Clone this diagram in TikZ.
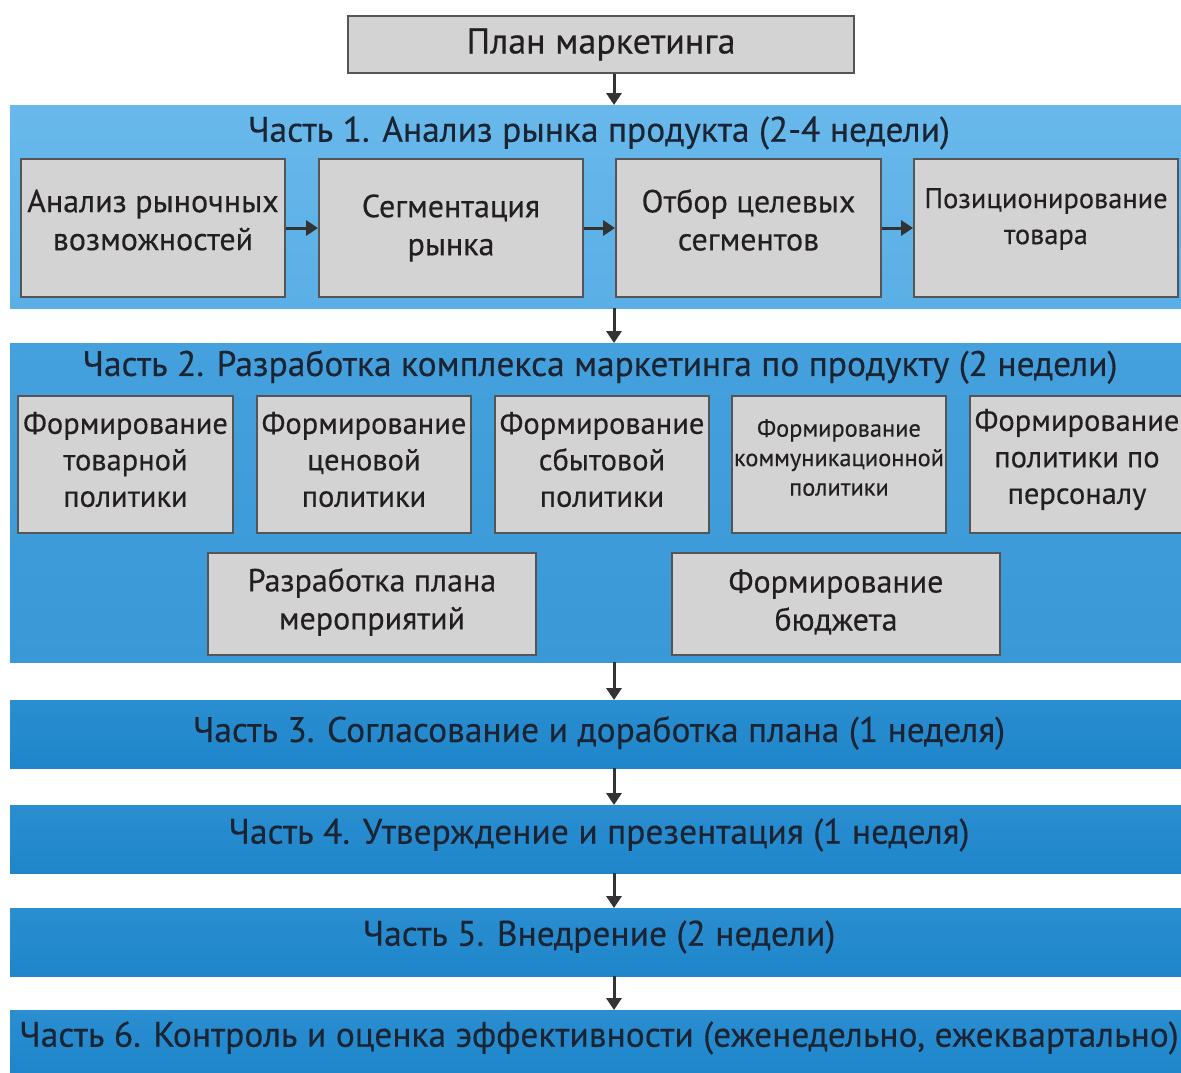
\documentclass[tikz,border=0pt]{standalone}
\usepackage{fontspec}
\setmainfont[FakeBold=0.35]{PT Sans}
\usetikzlibrary{arrows.meta}
\definecolor{bandA}{HTML}{5AAFE6}
\definecolor{bandAt}{HTML}{68B8EB}
\definecolor{bandB}{HTML}{3A98D7}
\definecolor{bandBt}{HTML}{45A1DD}
\definecolor{bandC}{HTML}{1F86CB}
\definecolor{bandCt}{HTML}{2A8ED0}
\definecolor{boxfill}{HTML}{D3D3D3}
\definecolor{boxline}{HTML}{555555}
\definecolor{txt}{HTML}{1B2433}
\definecolor{btxt}{HTML}{231F20}
\definecolor{arrc}{HTML}{333333}
\tikzset{
  gbox/.style={draw=boxline, line width=2pt, fill=boxfill, anchor=north west, inner sep=0pt},
  boxtxt/.style={align=center, text=btxt, inner sep=0pt},
  bandbox/.style={anchor=north west, inner sep=0pt, draw=none},
  titletxt/.style={text=txt, font=\fontsize{35.5}{40}\selectfont, inner sep=0pt},
  arr/.style={draw=arrc, line width=3pt, -{Triangle[length=12pt,width=15pt]}}
}
\begin{document}
\begin{tikzpicture}[x=1pt,y=-1pt]
\useasboundingbox (0,0) rectangle (1181,1072);
\fill[white] (0,0) rectangle (1181,1072);
\coordinate (ax) at (614,0);

% top box
\node[gbox, minimum width=506, minimum height=57] (plan) at (347,15) {};
\node[boxtxt, font=\fontsize{36}{40}\selectfont] (plant) at (plan.center) {План маркетинга};

% Part 1
\node[bandbox, minimum width=1171, minimum height=203, top color=bandAt, bottom color=bandA] (p1) at (10,105) {};
\node[titletxt] (t1) at (599,133) {Часть 1. Анализ рынка продукта (2-4 недели)};
\node[gbox, minimum width=264, minimum height=138] (a1) at (20,158) {};
\node[gbox, minimum width=264, minimum height=138] (a2) at (318,158) {};
\node[gbox, minimum width=265, minimum height=138] (a3) at (615,158) {};
\node[gbox, minimum width=264, minimum height=138] (a4) at (913,158) {};
\node[boxtxt, font=\fontsize{32}{38}\selectfont] (a1t) at ([yshift=8pt]a1.center) {Анализ рыночных\\возможностей};
\node[boxtxt, font=\fontsize{32}{38}\selectfont] (a2t) at (a2.center) {Сегментация\\рынка};
\node[boxtxt, font=\fontsize{32}{38}\selectfont] (a3t) at ([yshift=8pt]a3.center) {Отбор целевых\\сегментов};
\node[boxtxt, font=\fontsize{28.4}{36}\selectfont] (a4t) at ([yshift=9pt]a4.center) {Позиционирование\\товара};
\draw[arr] (a1.east) -- (a2.west);
\draw[arr] (a2.east) -- (a3.west);
\draw[arr] (a3.east) -- (a4.west);

% Part 2
\node[bandbox, minimum width=1171, minimum height=319, top color=bandBt, bottom color=bandB] (p2) at (10,343) {};
\node[titletxt] (t2) at (600,367) {Часть 2. Разработка комплекса маркетинга по продукту (2 недели)};
\node[gbox, minimum width=215, minimum height=137] (b1) at (17,395) {};
\node[gbox, minimum width=214, minimum height=137] (b2) at (256,395) {};
\node[gbox, minimum width=214, minimum height=137] (b3) at (494,395) {};
\node[gbox, minimum width=214, minimum height=137] (b4) at (731,395) {};
\node[gbox, minimum width=214, minimum height=137] (b5) at (969,395) {};
\node[boxtxt, font=\fontsize{30.5}{36.5}\selectfont] (b1t) at ([yshift=5pt]b1.center) {Формирование\\товарной\\политики};
\node[boxtxt, font=\fontsize{30.5}{36.5}\selectfont] (b2t) at ([yshift=5pt]b2.center) {Формирование\\ценовой\\политики};
\node[boxtxt, font=\fontsize{30.5}{36.5}\selectfont] (b3t) at ([yshift=5pt]b3.center) {Формирование\\сбытовой\\политики};
\node[boxtxt, font=\fontsize{24.4}{29.5}\selectfont] (b4t) at ([yshift=7pt]b4.center) {Формирование\\коммуникационной\\политики};
\node[boxtxt, font=\fontsize{30.5}{36.5}\selectfont] (b5t) at ([yshift=5pt]b5.center) {Формирование\\политики по\\персоналу};
\node[gbox, minimum width=328, minimum height=102] (c1) at (207,552) {};
\node[gbox, minimum width=328, minimum height=102] (c2) at (671,552) {};
\node[boxtxt, font=\fontsize{32}{38}\selectfont] (c1t) at ([yshift=2pt]c1.center) {Разработка плана\\мероприятий};
\node[boxtxt, font=\fontsize{32}{38}\selectfont] (c2t) at ([yshift=2pt]c2.center) {Формирование\\бюджета};

% Parts 3-6
\node[bandbox, minimum width=1171, minimum height=68, top color=bandCt, bottom color=bandC] (p3) at (10,700) {};
\node[titletxt] (t3) at (599,733) {Часть 3. Согласование и доработка плана (1 неделя)};
\node[bandbox, minimum width=1171, minimum height=68, top color=bandCt, bottom color=bandC] (p4) at (10,805) {};
\node[titletxt] (t4) at (599,835) {Часть 4. Утверждение и презентация (1 неделя)};
\node[bandbox, minimum width=1171, minimum height=68, top color=bandCt, bottom color=bandC] (p5) at (10,908) {};
\node[titletxt] (t5) at (599,937) {Часть 5. Внедрение (2 недели)};
\node[bandbox, minimum width=1171, minimum height=62, top color=bandCt, bottom color=bandC] (p6) at (10,1010) {};
\node[titletxt] (t6) at (599,1038) {Часть 6. Контроль и оценка эффективности (еженедельно, ежеквартально)};

% main arrows
\draw[arr] (plan.south -| ax) -- (p1.north -| ax);
\draw[arr] (p1.south -| ax) -- (p2.north -| ax);
\draw[arr] (p2.south -| ax) -- (p3.north -| ax);
\draw[arr] (p3.south -| ax) -- (p4.north -| ax);
\draw[arr] (p4.south -| ax) -- (p5.north -| ax);
\draw[arr] (p5.south -| ax) -- (p6.north -| ax);
\end{tikzpicture}
\end{document}
